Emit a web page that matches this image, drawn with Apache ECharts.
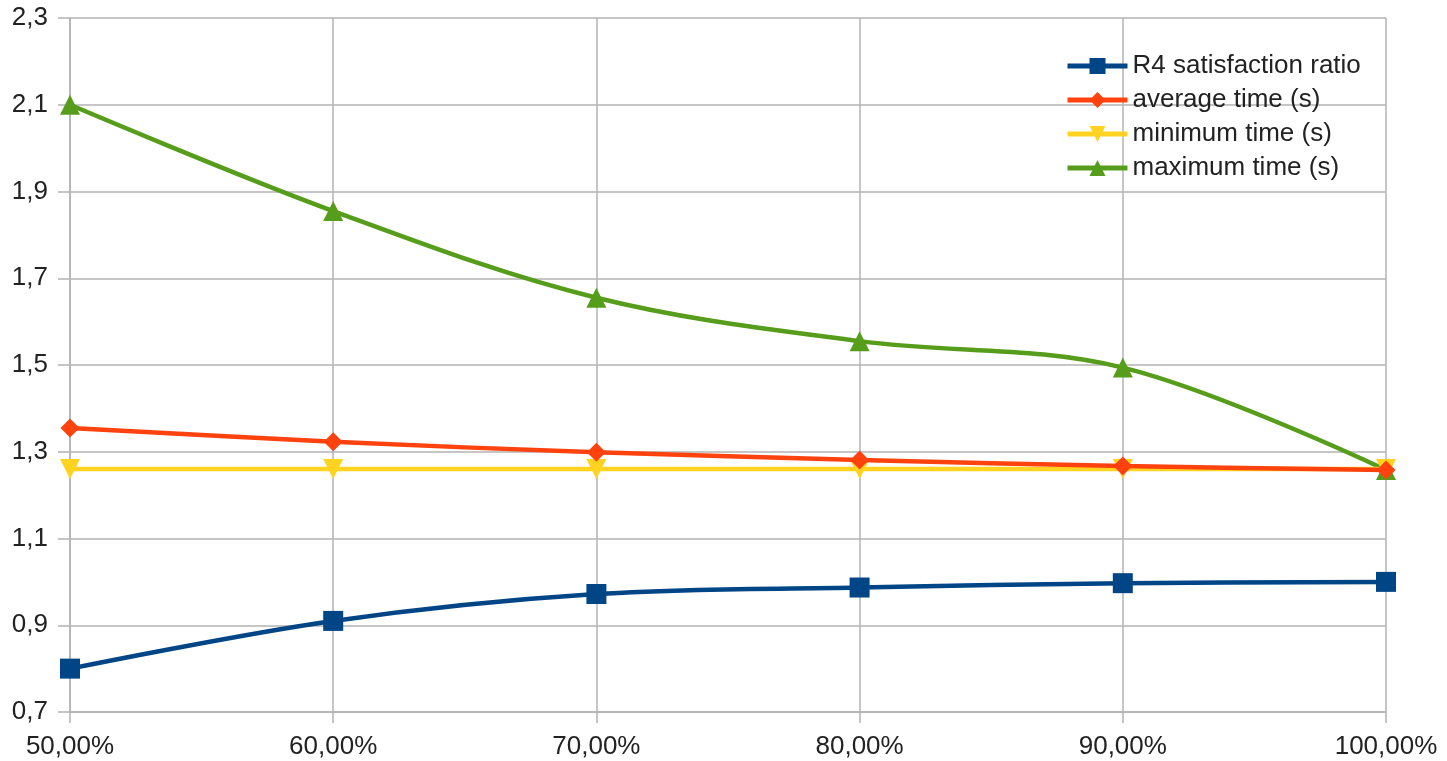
<!DOCTYPE html>
<html>
<head>
<meta charset="utf-8">
<script src="https://cdn.jsdelivr.net/npm/echarts@6/dist/echarts.min.js"></script>
<style>
  html, body { margin: 0; padding: 0; background: #fff; }
  #chart { width: 1447px; height: 761px; }
</style>
</head>
<body>
<div id="chart"></div>
<script>
// Threshold levels on the x axis
const categories = ['50,00%', '60,00%', '70,00%', '80,00%', '90,00%', '100,00%'];

// Series values
const satisfactionRatio = [0.800, 0.910, 0.972, 0.987, 0.997, 1.000];
const averageTime = [1.355, 1.323, 1.299, 1.281, 1.267, 1.258];
const minimumTime = [1.260, 1.260, 1.260, 1.260, 1.260, 1.260];
const maximumTime = [2.100, 1.855, 1.655, 1.555, 1.494, 1.258];

// Y axis range
const yMin = 0.7;
const yMax = 2.3;
const yStep = 0.2;

const FONT = '"Liberation Sans", Arial, sans-serif';
const TEXT = '#222222';
const GRID = '#b3b3b3';
const FS = 26;

const chart = echarts.init(document.getElementById('chart'), null, { renderer: 'canvas' });

function lineSeries(name, data, color, symbol, size, extra) {
  return Object.assign({
    name: name,
    type: 'line',
    data: data,
    smooth: 0.35,
    symbol: symbol,
    symbolSize: size,
    showAllSymbol: true,
    lineStyle: { color: color, width: 4.5 },
    itemStyle: { color: color },
    emphasis: { disabled: true },
    z: 2
  }, extra || {});
}

chart.setOption({
  animation: false,
  backgroundColor: '#ffffff',
  grid: { left: 70, right: 61, top: 18, bottom: 49, containLabel: false },
  legend: {
    orient: 'vertical',
    left: 1060,
    top: 48,
    itemWidth: 60,
    itemHeight: 20,
    itemGap: 8,
    lineStyle: { width: 5 },
    textStyle: { fontFamily: FONT, fontSize: FS, color: TEXT },
    data: ['R4 satisfaction ratio', 'average time (s)', 'minimum time (s)', 'maximum time (s)']
  },
  xAxis: {
    type: 'category',
    data: categories,
    boundaryGap: false,
    axisLine: { show: true, lineStyle: { color: GRID, width: 1.5 } },
    axisTick: { show: true, length: 11, lineStyle: { color: GRID, width: 1.5 } },
    axisLabel: { fontFamily: FONT, fontSize: FS, color: TEXT, margin: 22 },
    splitLine: { show: true, lineStyle: { color: GRID, width: 1.5 } }
  },
  yAxis: {
    type: 'value',
    min: yMin,
    max: yMax,
    interval: yStep,
    axisLine: { show: true, lineStyle: { color: GRID, width: 1.5 } },
    axisTick: { show: true, inside: false, length: 12, lineStyle: { color: GRID, width: 1.5 } },
    axisLabel: {
      fontFamily: FONT, fontSize: FS, color: TEXT, margin: 22,
      formatter: v => v.toFixed(1).replace('.', ',')
    },
    splitLine: { show: true, lineStyle: { color: GRID, width: 1.5 } }
  },
  series: [
    lineSeries('R4 satisfaction ratio', satisfactionRatio, '#004586', 'rect', 20),
    lineSeries('average time (s)', averageTime, '#ff420e', 'diamond', 19, { z: 5 }),
    lineSeries('minimum time (s)', minimumTime, '#ffd320', 'triangle', 20, { symbolRotate: 180, z: 3 }),
    lineSeries('maximum time (s)', maximumTime, '#579d1c', 'triangle', 20, { z: 2 })
  ]
});
</script>
</body>
</html>
